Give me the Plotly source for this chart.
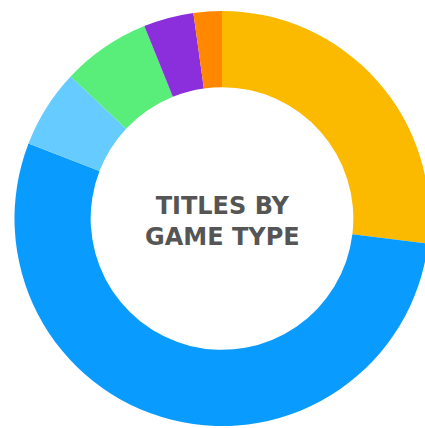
import plotly.graph_objects as go

categories = ["Action", "Adventure", "Puzzle", "Sports", "Strategy", "Other"]
values = [26.9, 53.9, 6.1, 6.9, 3.9, 2.2]
colors = ["#FBBA00", "#0A9BFF", "#66CCFF", "#58EE79", "#8B2FDD", "#FF8800"]
center_title = "TITLES BY<br>GAME TYPE"

W, H = 440, 428
cx, cy, r = 222, 218.5, 207.5

fig = go.Figure(go.Pie(
    labels=categories,
    values=values,
    hole=0.633,
    sort=False,
    direction="clockwise",
    rotation=0,
    textinfo="none",
    hoverinfo="label+percent",
    marker=dict(colors=colors, line=dict(width=0)),
    domain=dict(x=[(cx - r) / W, (cx + r) / W], y=[(H - cy - r) / H, (H - cy + r) / H]),
    showlegend=False,
))

fig.add_annotation(
    text=center_title, x=cx / W, y=(H - 221) / H, xref="paper", yref="paper",
    xanchor="center", yanchor="middle", showarrow=False,
    font=dict(family="DejaVu Sans", size=24, color="#555555", weight="bold"),
)

fig.update_layout(
    width=W, height=H, autosize=False,
    margin=dict(l=0, r=0, t=0, b=0),
    paper_bgcolor="white", plot_bgcolor="white",
)

fig.write_html("out.html", post_script="document.body.style.overflow='hidden';document.documentElement.style.overflow='hidden';")
